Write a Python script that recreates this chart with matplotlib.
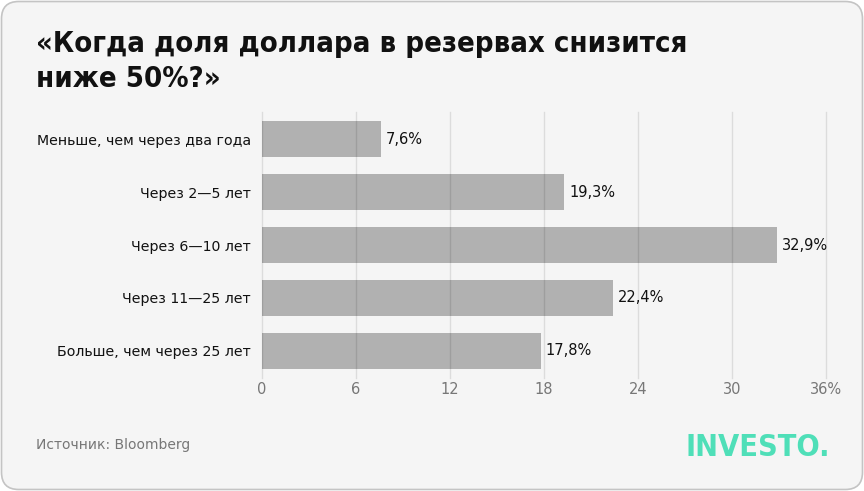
import matplotlib.pyplot as plt
from matplotlib.patches import FancyBboxPatch

categories = ['Меньше, чем через два года', 'Через 2—5 лет', 'Через 6—10 лет',
              'Через 11—25 лет', 'Больше, чем через 25 лет']
values = [7.6, 19.3, 32.9, 22.4, 17.8]
value_labels = ['7,6%', '19,3%', '32,9%', '22,4%', '17,8%']
xticks = [0, 6, 12, 18, 24, 30, 36]
xtick_labels = ['0', '6', '12', '18', '24', '30', '36%']

W, H = 864, 491
fig = plt.figure(figsize=(W / 100, H / 100), dpi=100)
fig.patch.set_facecolor('white')

# card background
card = FancyBboxPatch((1.5 / W, 1.5 / H), (W - 3) / W, (H - 3) / H,
                      boxstyle='round,pad=0,rounding_size=0.02',
                      transform=fig.transFigure, facecolor='#f5f5f5',
                      edgecolor='#c4c4c4', linewidth=1.2, mutation_aspect=W / H,
                      zorder=-10)
fig.patches.append(card)

ax = fig.add_axes([262 / W, 1 - 378 / H, (826 - 262) / W, (378 - 112) / H])
ax.set_facecolor('none')

y = list(range(len(categories)))
ax.barh(y, values, height=0.68, color='#b1b1b1', zorder=1)
ax.set_ylim(len(categories) - 0.5 + 0.02, -0.5 - 0.02)
ax.set_xlim(0, 36)

for yi, v, lab in zip(y, values, value_labels):
    ax.text(v + 0.3, yi, lab, va='center', ha='left', fontsize=10.5,
            color='#111111')

ax.set_yticks(y)
ax.set_yticklabels(categories, fontsize=10.2, color='#111111')
ax.set_xticks(xticks)
ax.set_xticklabels(xtick_labels, fontsize=10.5, color='#777777')
ax.tick_params(axis='y', length=0, pad=8)
ax.tick_params(axis='x', length=0, pad=3)
for s in ax.spines.values():
    s.set_visible(False)
for xt in xticks:
    ax.axvline(xt, color='#000000', alpha=0.1, linewidth=1, zorder=2, clip_on=False)

title_lines = ['«Когда доля доллара в резервах снизится', 'ниже 50%?»']
for i, line in enumerate(title_lines):
    fig.text(36 / W, 1 - (52 + 35 * i) / H, line, fontsize=21, fontweight='bold',
             family='DejaVu Sans', fontstretch='condensed',
             color='#111111', va='baseline', ha='left')
fig.text(36 / W, 1 - 445 / H, 'Источник: Bloomberg', fontsize=10,
         color='#777777', va='center', ha='left')
fig.text(830 / W, 1 - 456 / H, 'INVESTO.', fontsize=22, fontweight='bold',
         family='DejaVu Sans', fontstretch='condensed', color='#4fdfb8',
         va='baseline', ha='right')

fig.savefig('out.png', dpi=100, facecolor=fig.get_facecolor())
